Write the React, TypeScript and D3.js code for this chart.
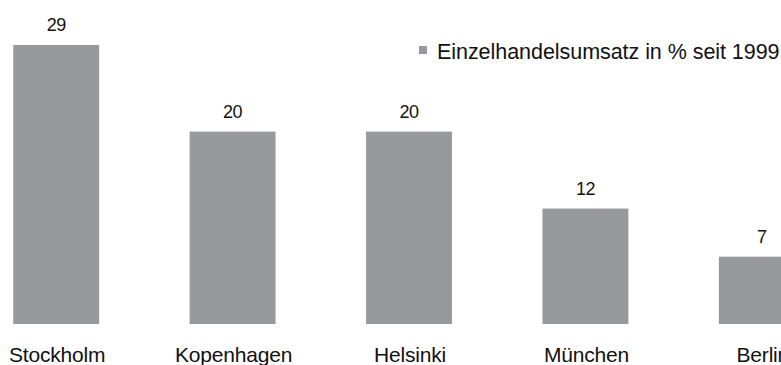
import React from "react";
import * as d3 from "d3";

const categories = ["Stockholm", "Kopenhagen", "Helsinki", "München", "Berlin"];
const values = [29, 20, 20, 12, 7];
const seriesName = "Einzelhandelsumsatz in % seit 1999";

const W = 781;
const H = 365;

export default function App() {
  const x = d3
    .scaleBand<string>()
    .domain(categories)
    .range([-32, 850])
    .paddingInner(0.513)
    .paddingOuter(0.2565);
  const y = d3.scaleLinear().domain([0, 29]).range([324, 45]);
  const color = "#98999d";
  const font = "'Liberation Sans', Arial, sans-serif";

  return (
    <svg
      width={W}
      height={H}
      style={{ position: "absolute", left: 0, top: 0, background: "#fff" }}
      fontFamily={font}
    >
      <rect x={0} y={0} width={W} height={H} fill="#fff" />
      {categories.map((c, i) => (
        <g key={c}>
          <rect
            x={x(c)}
            y={y(values[i])}
            width={x.bandwidth()}
            height={y(0) - y(values[i])}
            fill={color}
          />
          <text
            x={(x(c) as number) + x.bandwidth() / 2}
            y={y(values[i]) - 14}
            textAnchor="middle"
            fontSize={18}
            fill="#111"
            letterSpacing={-0.5}
          >
            {values[i]}
          </text>
          <text
            x={(x(c) as number) + x.bandwidth() / 2 + 1}
            y={362}
            textAnchor="middle"
            fontSize={21}
            fill="#111"
            letterSpacing={-0.2}
          >
            {c}
          </text>
        </g>
      ))}
      <rect x={419} y={46} width={8} height={8} fill={color} />
      <text x={437} y={59} fontSize={21.5} fill="#111" letterSpacing={-0.05}>
        {seriesName}
      </text>
    </svg>
  );
}
